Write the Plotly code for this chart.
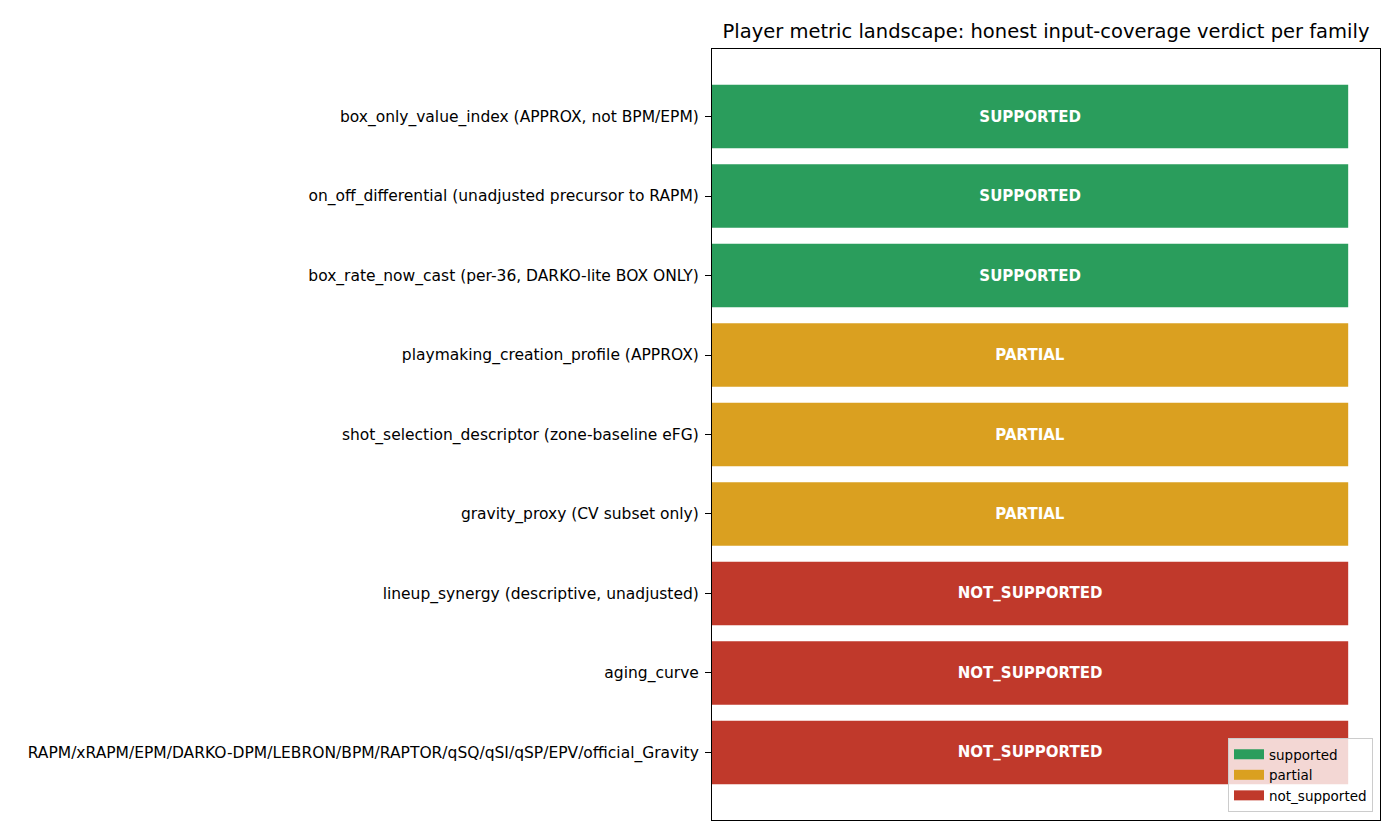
import plotly.graph_objects as go

categories = [
    "box_only_value_index (APPROX, not BPM/EPM)",
    "on_off_differential (unadjusted precursor to RAPM)",
    "box_rate_now_cast (per-36, DARKO-lite BOX ONLY)",
    "playmaking_creation_profile (APPROX)",
    "shot_selection_descriptor (zone-baseline eFG)",
    "gravity_proxy (CV subset only)",
    "lineup_synergy (descriptive, unadjusted)",
    "aging_curve",
    "RAPM/xRAPM/EPM/DARKO-DPM/LEBRON/BPM/RAPTOR/qSQ/qSI/qSP/EPV/official_Gravity",
]
statuses = ["supported", "supported", "supported", "partial", "partial", "partial",
            "not_supported", "not_supported", "not_supported"]
values = [1.0] * len(categories)
status_order = ["supported", "partial", "not_supported"]
colors = {"supported": "#2a9d5c", "partial": "#daa020", "not_supported": "#c0392b"}

FONT = "DejaVu Sans"
fig = go.Figure()
for st in status_order:
    ys = [c for c, s in zip(categories, statuses) if s == st]
    xs = [v for v, s in zip(values, statuses) if s == st]
    fig.add_trace(go.Bar(
        x=xs, y=ys, orientation="h", name=st, width=0.8,
        marker=dict(color=colors[st], line=dict(width=0)),
        text=[st.upper()] * len(ys), textposition="inside",
        insidetextanchor="middle", constraintext="none",
        textfont=dict(color="white", size=15, family=FONT, weight="bold"),
        hoverinfo="skip", showlegend=False,
    ))
# legend entries drawn as wide rectangles
for st in status_order:
    fig.add_trace(go.Scatter(
        x=[None], y=[None], mode="lines", name=st,
        line=dict(color=colors[st], width=11), hoverinfo="skip",
    ))

fig.update_layout(
    width=1400, height=840,
    margin=dict(l=704, r=28, t=41, b=28),
    paper_bgcolor="white", plot_bgcolor="white",
    barmode="overlay",
    font=dict(family=FONT, size=15, color="black"),
    title=dict(text="Player metric landscape: honest input-coverage verdict per family",
               x=0.5, xref="paper", xanchor="center", y=1 - 23 / 840, yanchor="middle",
               font=dict(size=19.5, family=FONT, color="black")),
    xaxis=dict(range=[0, 1.05], showticklabels=False, ticks="", showgrid=False,
               zeroline=False, showline=True, linecolor="black", linewidth=1.1, mirror=True),
    yaxis=dict(type="category", categoryorder="array", categoryarray=categories,
               range=[8.85, -0.85], showgrid=False, zeroline=False,
               showline=True, linecolor="black", linewidth=1.1, mirror=True,
               ticks="outside", ticklen=6, tickwidth=1.1, tickcolor="black",
               ticklabelstandoff=3,
               tickfont=dict(size=15.5, family=FONT, color="black")),
    legend=dict(x=0.9895, y=0.0104, xanchor="right", yanchor="bottom",
                bgcolor="rgba(255,255,255,0.8)", bordercolor="#cccccc", borderwidth=1,
                font=dict(size=13.5, family=FONT, color="black"),
                tracegroupgap=0, itemwidth=30),
    showlegend=True,
)

fig.write_html("out.html")
